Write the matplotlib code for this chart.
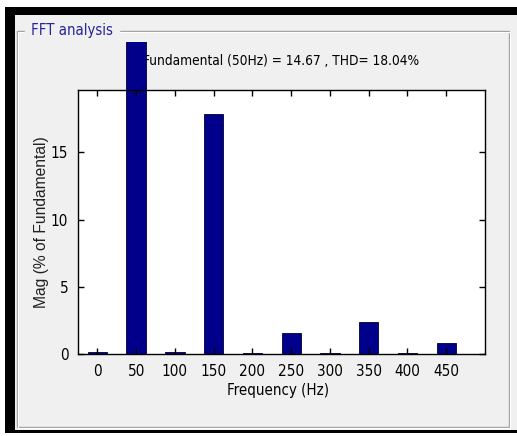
import matplotlib
matplotlib.use("Agg")
import matplotlib.pyplot as plt
from matplotlib.patches import Rectangle
from matplotlib.transforms import Bbox, TransformedBbox
from matplotlib import font_manager
from matplotlib.font_manager import FontProperties

# harmonic spectrum
freqs = [0, 50, 100, 150, 200, 250, 300, 350, 400, 450]
mags = [0.15, 100.0, 0.15, 17.9, 0.05, 1.57, 0.05, 2.39, 0.05, 0.82]
yticks = [0, 5, 10, 15]
title = "Fundamental (50Hz) = 14.67 , THD= 18.04%"
box_title = "FFT analysis"


def narrow_font():
    # MATLAB draws these labels in a narrow sans; take the narrowest one around
    fonts = [f for f in font_manager.fontManager.ttflist
             if f.style == "normal" and f.weight in (400, "normal", "regular")]
    for f in fonts:
        if f.name == "Liberation Sans Narrow":
            return f.fname
    for key in ("NotoSans-Condensed", "NotoSansCondensed", "DejaVuSansCondensed"):
        for f in fonts:
            if key in f.fname.replace(" ", "") and "Bold" not in f.fname:
                return f.fname
    for f in fonts:
        if f.stretch in ("condensed", "semi-condensed") and "Sans" in f.name:
            return f.fname
    return None


fname = narrow_font()


def nf(size):
    if fname:
        return FontProperties(fname=fname, size=size)
    return FontProperties(family="Liberation Sans", size=size)


def fit_span(text, target, renderer, vertical=False):
    # scale a text until it spans as many pixels as in the screenshot
    for _ in range(3):
        ext = text.get_window_extent(renderer)
        span = ext.height if vertical else ext.width
        text.set_fontsize(text.get_fontsize() * target / span)


W, H = 517, 436
fig = plt.figure(figsize=(W / 100, H / 100), dpi=100, facecolor="#f0f0f0")
renderer = fig.canvas.get_renderer()

# window frame drawn in pixel coordinates
bg = fig.add_axes([0, 0, 1, 1], zorder=-1)
bg.set_xlim(0, W)
bg.set_ylim(H, 0)
bg.axis("off")
bg.add_patch(Rectangle((0, 0), W, 7, color="white", lw=0))
bg.add_patch(Rectangle((0, 0), 5, H, color="white", lw=0))
bg.add_patch(Rectangle((0, 433), W, 3, color="white", lw=0))
bg.add_patch(Rectangle((5, 7), W - 5, 8, color="black", lw=0))
bg.add_patch(Rectangle((5, 7), 10, 426, color="black", lw=0))
bg.add_patch(Rectangle((5, 430), W - 5, 3, color="black", lw=0))
bg.add_patch(Rectangle((17, 31), 492, 396, fill=False, ec="#a0a0a0", lw=1))
bg.add_patch(Rectangle((18, 32), 492, 396, fill=False, ec="white", lw=0.8))
box_txt = bg.text(31, 31, box_title, fontproperties=nf(10), color="#24249a",
                  va="center", ha="left", backgroundcolor="#f0f0f0")
fit_span(box_txt, 82, renderer)
# title sits behind the clipped fundamental bar
title_txt = bg.text(281, 61, title, fontproperties=nf(10), ha="center", va="center")
fit_span(title_txt, 275, renderer)

ax = fig.add_axes([78 / W, 1 - 354 / H, 407 / W, 264 / H])
ax.set_facecolor("white")
bars = ax.bar(freqs, mags, width=25, color="#00008b", edgecolor="#000033", linewidth=0.6)
clip = TransformedBbox(Bbox.from_extents(78 / W, 1 - 354 / H, 485 / W, 1 - 42 / H), fig.transFigure)
for b in bars:
    b.set_clip_box(clip)

ax.set_xlim(-25, 500)
ax.set_ylim(0, 19.65)
ax.set_xticks(freqs)
ax.set_yticks(yticks)
ax.tick_params(direction="in", length=4, width=1, top=True, right=True, pad=7)
for s in ax.spines.values():
    s.set_linewidth(1)

probe = bg.text(0, 0, "450", fontproperties=nf(10))
fit_span(probe, 26, renderer)
tick_size = probe.get_fontsize()
probe.remove()
for lab in ax.get_xticklabels() + ax.get_yticklabels():
    lab.set_fontproperties(nf(tick_size))

xl = ax.set_xlabel("Frequency (Hz)", fontproperties=nf(10), va="center")
fit_span(xl, 102, renderer)
ax.xaxis.set_label_coords((278 - 78) / 407, (354 - 390) / 264)
yl = ax.set_ylabel("Mag (% of Fundamental)", fontsize=11, family="Liberation Sans", color="#222222")
fit_span(yl, 172, renderer, vertical=True)
ax.yaxis.set_label_coords((49 - 78) / 407, 0.5)

fig.savefig("out.png", dpi=100, facecolor=fig.get_facecolor())
